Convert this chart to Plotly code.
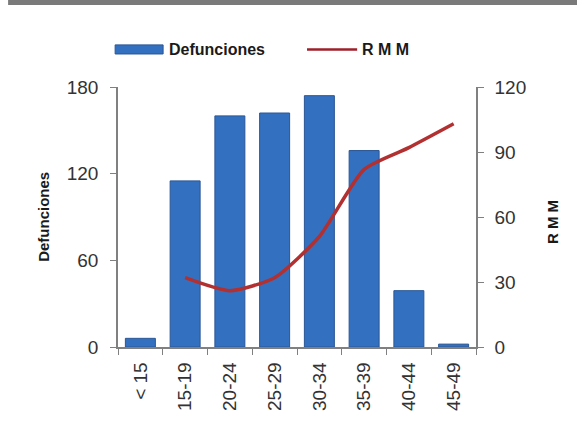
import plotly.graph_objects as go

categories = ["< 15", "15-19", "20-24", "25-29", "30-34", "35-39", "40-44", "45-49"]
defunciones = [6, 115, 160, 162, 174, 136, 39, 2]
rmm_categories = ["15-19", "20-24", "25-29", "30-34", "35-39", "40-44", "45-49"]
rmm = [32, 26, 32, 51, 82, 92, 103]

left_ticks = [0, 60, 120, 180]
right_ticks = [0, 30, 60, 90, 120]

fig = go.Figure()
fig.add_trace(go.Bar(
    x=categories, y=defunciones, name="Defunciones",
    marker=dict(color="#3470C0", line=dict(color="#2A5696", width=1)),
    showlegend=False,
))
fig.add_trace(go.Scatter(
    x=rmm_categories, y=rmm, name="R M M", yaxis="y2", mode="lines",
    line=dict(color="#B23030", width=3.5, shape="spline", smoothing=0.6),
    showlegend=False,
))

tickfont = dict(family="Liberation Sans, Arial", size=19, color="#333333")
axcol = "#808080"

fig.update_layout(
    width=577, height=429,
    margin=dict(l=118, r=101, t=87, b=82),
    paper_bgcolor="white", plot_bgcolor="white",
    bargap=0.33,
    xaxis=dict(
        type="category", tickangle=-90, tickfont=tickfont,
        showline=True, linecolor=axcol, linewidth=1.5,
        ticks="outside", ticklen=6, tickcolor=axcol, tickson="boundaries",
        showgrid=False, zeroline=False, automargin=False, ticklabelstandoff=6,
    ),
    yaxis=dict(
        range=[0, 180], tickvals=left_ticks, tickfont=tickfont,
        showline=True, linecolor=axcol, linewidth=1.5,
        ticks="outside", ticklen=6, tickcolor=axcol,
        showgrid=False, zeroline=False, automargin=False, ticklabelstandoff=8,
    ),
    yaxis2=dict(
        range=[0, 120], tickvals=right_ticks, tickfont=tickfont,
        overlaying="y", side="right",
        showline=True, linecolor=axcol, linewidth=1.5,
        ticks="outside", ticklen=6, tickcolor=axcol,
        showgrid=False, zeroline=False, automargin=False, ticklabelstandoff=7,
    ),
    shapes=[
        dict(type="rect", xref="paper", yref="paper",
             x0=-0.307, x1=1.3, y0=1.315, y1=1.40,
             fillcolor="#7a7a7a", line=dict(width=0), layer="above"),
        dict(type="rect", xref="paper", yref="paper",
             x0=-0.008, x1=0.126, y0=1.127, y1=1.162,
             fillcolor="#3470C0", line=dict(color="#2A5696", width=1)),
        dict(type="line", xref="paper", yref="paper",
             x0=0.528, x1=0.668, y0=1.144, y1=1.144,
             line=dict(color="#9E1E2A", width=2.5)),
    ],
    annotations=[
        dict(text="<b>Defunciones</b>", xref="paper", yref="paper",
             x=0.138, y=1.144, xanchor="left", yanchor="middle", showarrow=False,
             font=dict(family="Liberation Sans, Arial", size=16, color="#1a1a1a")),
        dict(text="<b>R M M</b>", xref="paper", yref="paper",
             x=0.676, y=1.144, xanchor="left", yanchor="middle", showarrow=False,
             font=dict(family="Liberation Sans, Arial", size=16, color="#1a1a1a")),
        dict(text="<b>Defunciones</b>", xref="paper", yref="paper",
             x=-0.21, y=0.5, xanchor="center", yanchor="middle", showarrow=False,
             textangle=-90,
             font=dict(family="Liberation Sans, Arial", size=15, color="#1a1a1a")),
        dict(text="<b>R M M</b>", xref="paper", yref="paper",
             x=1.212, y=0.48, xanchor="center", yanchor="middle", showarrow=False,
             textangle=-90,
             font=dict(family="Liberation Sans, Arial", size=15, color="#1a1a1a")),
    ],
)

fig.write_html(
    "out.html",
    config={"displayModeBar": False},
    post_script="document.body.style.margin='0';document.body.style.padding='0';",
)
